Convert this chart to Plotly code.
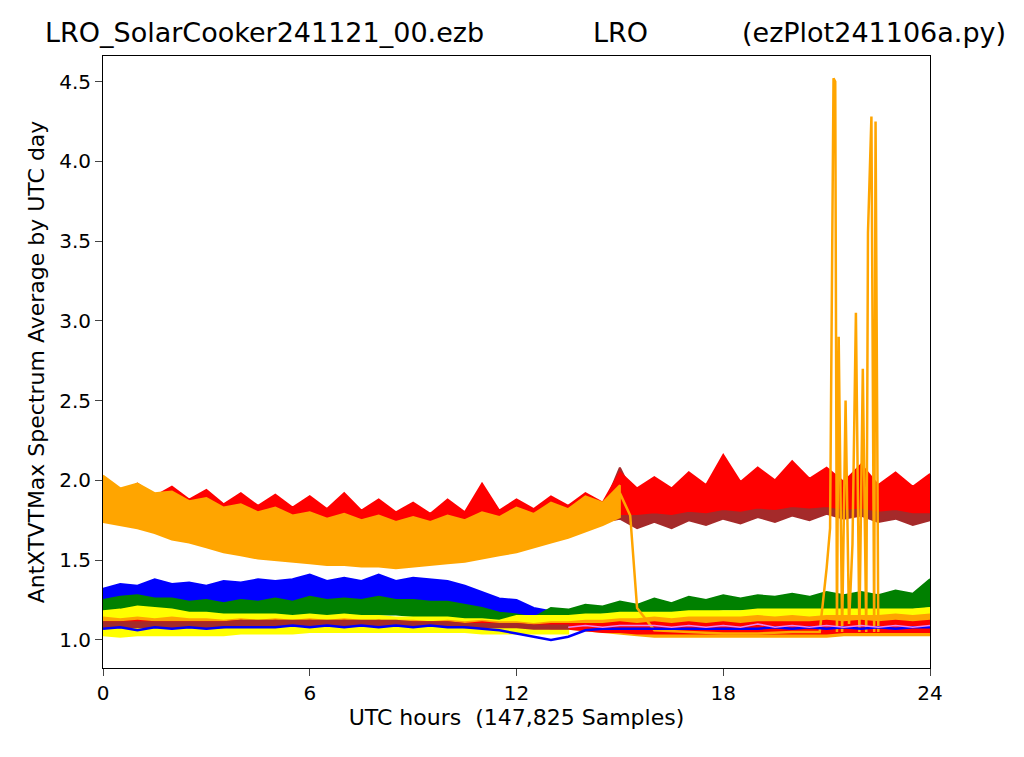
import plotly.graph_objects as go

# hour grid (0 .. 24 by 0.5)
hours = [i * 0.5 for i in range(49)]
hours_a = hours[:28]    # 0 .. 13.5
hours_b = hours[:31]    # 0 .. 15
hours_c = hours[28:]    # 14 .. 24

# band envelopes (upper / lower)
red_up = [2.00, 1.92, 1.98, 1.90, 1.96, 1.88, 1.94, 1.85, 1.92, 1.84, 1.91, 1.83, 1.90, 1.82, 1.92, 1.81,
          1.88, 1.80, 1.86, 1.79, 1.88, 1.80, 1.98, 1.81, 1.88, 1.82, 1.90, 1.84, 1.92, 1.86, 2.05, 1.95,
          2.02, 1.95, 2.05, 1.97, 2.16, 1.99, 2.08, 2.00, 2.12, 2.01, 2.08, 1.99, 2.10, 1.97, 2.05, 1.96, 2.04]
red_dn = [1.75, 1.75, 1.73, 1.72, 1.70, 1.68, 1.66, 1.65, 1.63, 1.61, 1.60, 1.59, 1.58, 1.58, 1.58, 1.58,
          1.58, 1.58, 1.59, 1.60, 1.61, 1.63, 1.65, 1.67, 1.69, 1.71, 1.73, 1.75, 1.77, 1.78, 1.79, 1.79,
          1.80, 1.79, 1.81, 1.80, 1.82, 1.81, 1.83, 1.82, 1.84, 1.83, 1.84, 1.82, 1.83, 1.81, 1.82, 1.80, 1.80]
brown_up = [1.80, 1.82, 2.08, 1.86, 1.86, 1.87, 1.88, 1.88, 1.89, 1.90, 1.90, 1.90, 1.91, 1.90, 1.90, 1.89,
            1.89, 1.88, 1.88, 1.87, 1.98]
brown_dn = [1.72, 1.74, 1.76, 1.70, 1.74, 1.70, 1.75, 1.72, 1.76, 1.73, 1.77, 1.74, 1.78, 1.75, 1.79, 1.76,
            1.78, 1.74, 1.76, 1.72, 1.75]
orange_up = [2.03, 1.95, 1.98, 1.92, 1.93, 1.87, 1.89, 1.83, 1.85, 1.80, 1.83, 1.78, 1.80, 1.76, 1.79, 1.75,
             1.78, 1.74, 1.77, 1.74, 1.78, 1.75, 1.80, 1.77, 1.83, 1.79, 1.86, 1.82, 1.90, 1.86, 1.97]
orange_dn = [1.74, 1.72, 1.70, 1.67, 1.63, 1.61, 1.58, 1.55, 1.53, 1.51, 1.50, 1.49, 1.48, 1.47, 1.47, 1.46,
             1.46, 1.45, 1.46, 1.47, 1.48, 1.49, 1.51, 1.53, 1.55, 1.58, 1.61, 1.64, 1.68, 1.72, 1.77]
blue_up = [1.32, 1.35, 1.34, 1.38, 1.35, 1.36, 1.34, 1.37, 1.36, 1.38, 1.37, 1.38, 1.41, 1.37, 1.39, 1.37,
           1.41, 1.37, 1.39, 1.38, 1.37, 1.34, 1.30, 1.26, 1.25, 1.20, 1.18, 1.17]
blue_dn = [1.20, 1.20, 1.22, 1.22, 1.22, 1.23, 1.23, 1.23, 1.24, 1.24, 1.24, 1.24, 1.24, 1.24, 1.24, 1.24,
           1.24, 1.24, 1.23, 1.22, 1.20, 1.18, 1.16, 1.14, 1.14, 1.13, 1.12, 1.13]
green_up = [1.25, 1.27, 1.28, 1.26, 1.26, 1.24, 1.25, 1.23, 1.25, 1.24, 1.26, 1.24, 1.27, 1.25, 1.26, 1.25,
            1.27, 1.25, 1.25, 1.24, 1.24, 1.22, 1.20, 1.17, 1.16, 1.14, 1.20, 1.19, 1.22, 1.21, 1.24, 1.22,
            1.26, 1.23, 1.27, 1.25, 1.28, 1.26, 1.28, 1.27, 1.29, 1.27, 1.30, 1.28, 1.30, 1.28, 1.31, 1.29, 1.38]
green_dn = [1.17, 1.17, 1.16, 1.16, 1.16, 1.16, 1.16, 1.16, 1.16, 1.16, 1.16, 1.16, 1.16, 1.16, 1.16, 1.16,
            1.16, 1.16, 1.15, 1.15, 1.14, 1.13, 1.12, 1.11, 1.10, 1.10, 1.12, 1.14, 1.16, 1.17, 1.17, 1.17,
            1.18, 1.18, 1.18, 1.18, 1.19, 1.19, 1.19, 1.19, 1.19, 1.19, 1.20, 1.20, 1.20, 1.20, 1.20, 1.20, 1.21]
yellow_up = [1.18, 1.19, 1.21, 1.20, 1.19, 1.17, 1.17, 1.16, 1.16, 1.16, 1.16, 1.15, 1.16, 1.15, 1.16, 1.15,
             1.15, 1.14, 1.14, 1.14, 1.14, 1.13, 1.13, 1.12, 1.15, 1.15, 1.15, 1.15, 1.16, 1.16, 1.17, 1.17,
             1.17, 1.17, 1.18, 1.18, 1.18, 1.18, 1.19, 1.19, 1.19, 1.19, 1.19, 1.19, 1.19, 1.19, 1.19, 1.19, 1.20]
yellow_dn = [1.12, 1.12, 1.13, 1.13, 1.12, 1.12, 1.12, 1.12, 1.12, 1.12, 1.12, 1.12, 1.12, 1.12, 1.12, 1.12,
             1.11, 1.11, 1.11, 1.11, 1.11, 1.10, 1.10, 1.10, 1.10, 1.10, 1.10, 1.11, 1.12, 1.12, 1.13, 1.13,
             1.13, 1.13, 1.14, 1.14, 1.14, 1.14, 1.14, 1.14, 1.14, 1.14, 1.15, 1.15, 1.15, 1.15, 1.15, 1.15, 1.15]
orlo_up = [1.14, 1.13, 1.14, 1.13, 1.14, 1.13, 1.13, 1.12, 1.13, 1.12, 1.13, 1.12, 1.13, 1.12, 1.13, 1.12,
           1.12, 1.12, 1.12, 1.11, 1.12, 1.11, 1.12, 1.11, 1.11, 1.10, 1.11, 1.11, 1.12, 1.12, 1.13, 1.13,
           1.14, 1.13, 1.14, 1.14, 1.14, 1.14, 1.15, 1.14, 1.15, 1.14, 1.15, 1.15, 1.15, 1.15, 1.16, 1.15, 1.16]
orlo_dn = [1.09, 1.09, 1.09, 1.09, 1.09, 1.09, 1.09, 1.09, 1.09, 1.09, 1.09, 1.09, 1.09, 1.09, 1.09, 1.09,
           1.09, 1.09, 1.09, 1.08, 1.08, 1.08, 1.08, 1.07, 1.07, 1.07, 1.07, 1.07, 1.06, 1.05, 1.04, 1.03,
           1.02, 1.02, 1.02, 1.02, 1.02, 1.02, 1.02, 1.02, 1.02, 1.02, 1.02, 1.03, 1.03, 1.03, 1.03, 1.03, 1.03]
redlo_up = [1.11, 1.11, 1.12, 1.11, 1.11, 1.11, 1.11, 1.11, 1.12, 1.11, 1.12, 1.11, 1.12, 1.11, 1.12, 1.11,
            1.12, 1.11, 1.11, 1.11, 1.11, 1.10, 1.11, 1.10, 1.10, 1.09, 1.10, 1.10, 1.10, 1.10, 1.11, 1.10,
            1.11, 1.10, 1.11, 1.10, 1.11, 1.10, 1.11, 1.11, 1.11, 1.11, 1.12, 1.11, 1.12, 1.11, 1.12, 1.11, 1.12]
redlo_dn = [1.08, 1.08, 1.08, 1.08, 1.08, 1.08, 1.08, 1.08, 1.08, 1.08, 1.08, 1.08, 1.08, 1.08, 1.08, 1.08,
            1.08, 1.08, 1.08, 1.08, 1.08, 1.07, 1.07, 1.07, 1.07, 1.07, 1.07, 1.07, 1.06, 1.05, 1.05, 1.04,
            1.04, 1.04, 1.04, 1.04, 1.04, 1.04, 1.04, 1.04, 1.04, 1.04, 1.04, 1.05, 1.05, 1.05, 1.05, 1.05, 1.05]
yelo_up = [1.08, 1.08, 1.08, 1.08, 1.07, 1.07, 1.07, 1.07, 1.08, 1.08, 1.08, 1.08, 1.09, 1.09, 1.09, 1.09,
           1.09, 1.09, 1.08, 1.08, 1.08, 1.08, 1.08, 1.08, 1.07, 1.07, 1.06, 1.06]
yelo_dn = [1.03, 1.02, 1.03, 1.03, 1.03, 1.03, 1.03, 1.03, 1.04, 1.04, 1.04, 1.04, 1.05, 1.05, 1.05, 1.05,
           1.05, 1.05, 1.05, 1.05, 1.05, 1.05, 1.04, 1.04, 1.04, 1.04, 1.04, 1.04]
brlo_up = [1.11, 1.11, 1.11, 1.11, 1.11, 1.11, 1.11, 1.11, 1.12, 1.12, 1.12, 1.12, 1.12, 1.12, 1.12, 1.12,
           1.12, 1.12, 1.11, 1.11, 1.11, 1.10, 1.10, 1.10, 1.10, 1.09, 1.09, 1.09]
brlo_dn = [1.08, 1.08, 1.08, 1.08, 1.08, 1.08, 1.08, 1.08, 1.09, 1.09, 1.09, 1.09, 1.09, 1.09, 1.09, 1.09,
           1.09, 1.09, 1.09, 1.09, 1.09, 1.08, 1.08, 1.08, 1.08, 1.07, 1.07, 1.07]
blue_lo = [1.07, 1.08, 1.06, 1.08, 1.07, 1.08, 1.07, 1.08, 1.08, 1.08, 1.08, 1.09, 1.08, 1.09, 1.08, 1.09,
           1.08, 1.09, 1.08, 1.09, 1.08, 1.08, 1.07, 1.06, 1.04, 1.02, 1.00, 1.02, 1.06, 1.07, 1.07, 1.07,
           1.07, 1.07, 1.07, 1.07, 1.07, 1.07, 1.07, 1.08, 1.07, 1.08, 1.07, 1.08, 1.07, 1.08, 1.07, 1.08, 1.08]
violet = [1.08, 1.09, 1.08, 1.09, 1.09, 1.09, 1.08, 1.09, 1.08, 1.09, 1.08, 1.10, 1.08, 1.09, 1.08, 1.09,
          1.08, 1.09, 1.08, 1.09, 1.08, 1.09]
violet_x = hours[27:]

# orange single line: drop after 15 h and the late spikes
spike_x = [15.0, 15.3, 15.5, 16.0, 17.0, 18.0, 19.0, 20.0, 20.8, 20.9, 21.0, 21.1, 21.2, 21.25, 21.3, 21.35,
           21.45, 21.55, 21.65, 21.75, 21.85, 21.95, 22.05, 22.15, 22.2, 22.3, 22.38, 22.42, 22.5]
spike_y = [1.92, 1.78, 1.20, 1.06, 1.05, 1.04, 1.04, 1.05, 1.05, 1.25, 1.45, 1.70, 4.52, 4.50, 1.05, 2.90,
           1.05, 2.50, 1.10, 1.60, 3.05, 1.05, 2.70, 1.05, 3.55, 4.28, 1.05, 4.25, 1.05]

bands = [
    (hours_c, brown_up, brown_dn, 'brown'),
    (hours, red_up, red_dn, 'red'),
    (hours_b, orange_up, orange_dn, 'orange'),
    (hours_a, blue_up, blue_dn, 'blue'),
    (hours, green_up, green_dn, 'green'),
    (hours, yellow_up, yellow_dn, 'yellow'),
    (hours, orlo_up, orlo_dn, 'orange'),
    (hours, redlo_up, redlo_dn, 'red'),
    (hours_a, yelo_up, yelo_dn, 'yellow'),
    (hours_a, brlo_up, brlo_dn, 'brown'),
]

fig = go.Figure()
for x, up, dn, c in bands:
    fig.add_trace(go.Scatter(x=list(x) + list(x)[::-1], y=list(up) + list(dn)[::-1], mode='lines',
                             fill='toself', fillcolor=c, line=dict(color=c, width=2), showlegend=False))
fig.add_trace(go.Scatter(x=spike_x, y=spike_y, mode='lines', line=dict(color='orange', width=2.5),
                         showlegend=False))
fig.add_trace(go.Scatter(x=hours, y=blue_lo, mode='lines', line=dict(color='blue', width=2.5), showlegend=False))
fig.add_trace(go.Scatter(x=violet_x, y=violet, mode='lines', line=dict(color='violet', width=1.5),
                         showlegend=False))

fnt = dict(family='DejaVu Sans', color='black')
fig.update_layout(
    width=1024, height=757, plot_bgcolor='white', paper_bgcolor='white',
    margin=dict(l=95, r=102, t=48, b=97),
    font=dict(family='DejaVu Sans', size=20, color='black'),
    xaxis=dict(range=[0, 24], tickvals=[0, 6, 12, 18, 24], ticks='outside', ticklen=7,
               showgrid=False, zeroline=False, showline=True, linecolor='black', mirror=True,
               title=dict(text='UTC hours  (147,825 Samples)', font=dict(size=22), standoff=5)),
    yaxis=dict(range=[0.824, 4.66], tickvals=[1.0, 1.5, 2.0, 2.5, 3.0, 3.5, 4.0, 4.5],
               ticktext=['1.0', '1.5', '2.0', '2.5', '3.0', '3.5', '4.0', '4.5'],
               ticks='outside', ticklen=7, showgrid=False, zeroline=False, showline=True,
               linecolor='black', mirror=True,
               title=dict(text='AntXTVTMax Spectrum Average by UTC day', font=dict(size=22), standoff=8)),
)
for txt, xp, anc in [('LRO_SolarCooker241121_00.ezb', 42, 'left'), ('LRO', 619, 'center'),
                     ('(ezPlot241106a.py)', 1007, 'right')]:
    fig.add_annotation(text=txt, x=(xp - 102) / 827, y=1, yshift=24, xref='paper', yref='paper',
                       xanchor=anc, yanchor='middle', showarrow=False, font=dict(size=27, **fnt))

fig.write_html("out.html")
